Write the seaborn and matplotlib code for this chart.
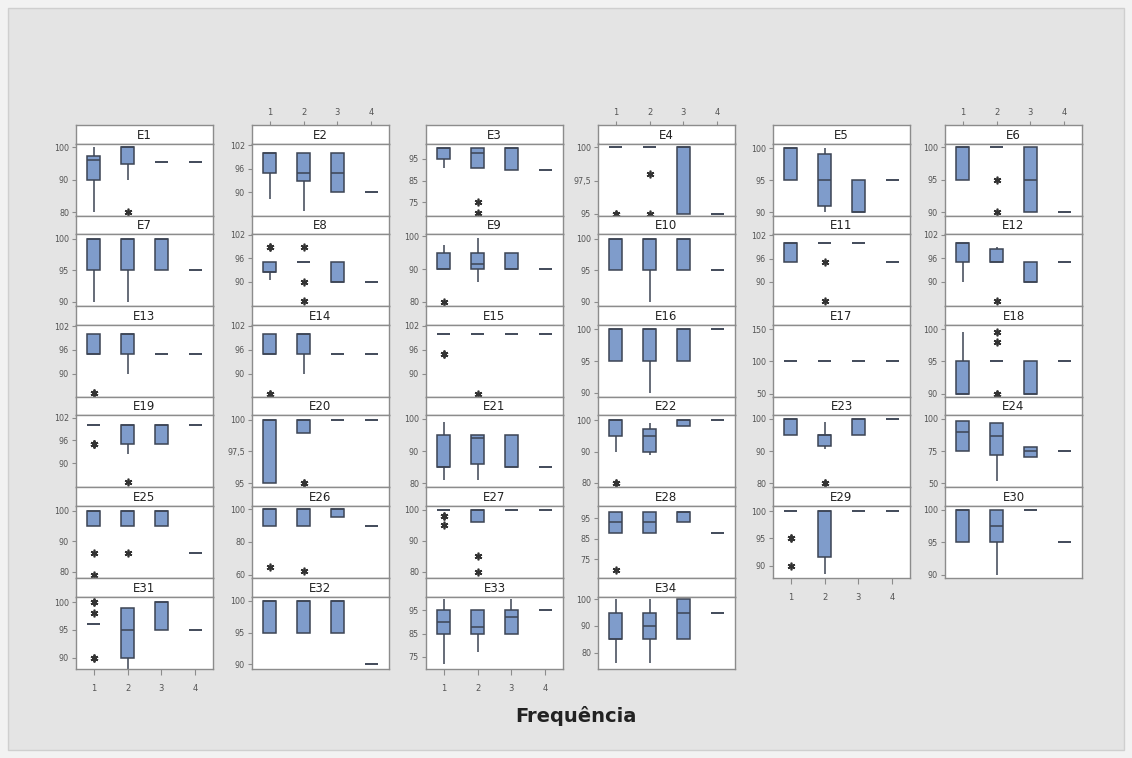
import numpy as np
import pandas as pd
import matplotlib
matplotlib.use("Agg")
import matplotlib.pyplot as plt
from matplotlib.patches import Rectangle
import seaborn as sns

# ---------------- data (box statistics) ----------------
PANELS = [f"E{i}" for i in range(1, 35)]
FREQ = [1, 2, 3, 4]
X_LABEL = "Frequência"

WHISK_LO = [
    [80, 90, 95.5, 95.5], [88.3, 85.3, 90, 90], [91, 91, 90, 90], [100, 100, 95, 95],
    [95, 90, 90, 95], [95, 100, 90, 90], [90, 90, 95, 95], [90.5, 95, 90, 90],
    [90, 86, 90, 90], [95, 90, 95, 95], [95, 100, 100, 95], [90, 95, 90, 95],
    [95, 90, 95, 95], [95, 90, 95, 95], [100, 100, 100, 100], [95, 90, 95, 100],
    [100, 100, 100, 100], [90, 95, 90, 95], [100, 92.5, 95, 100], [95, 99, 100, 100],
    [81, 81, 85, 85], [90, 89, 98, 100], [95, 90.5, 95, 100], [75, 52, 70.5, 75],
    [95, 95, 95, 86], [90, 90, 95, 90], [100, 96, 100, 100], [88, 88, 93, 88],
    [100, 88.5, 100, 100], [95, 90, 100, 95], [96, 88, 95, 95], [95, 95, 95, 90],
    [72, 77, 85, 95], [76, 76, 85, 95],
]
Q1 = [
    [90, 95, 95.5, 95.5], [95, 93, 90, 90], [95, 91, 90, 90], [100, 100, 95, 95],
    [95, 91, 90, 95], [95, 100, 90, 90], [95, 95, 95, 95], [92.5, 95, 90, 90],
    [90, 90, 90, 90], [95, 95, 95, 95], [95, 100, 100, 95], [95, 95, 90, 95],
    [95, 95, 95, 95], [95, 95, 95, 95], [100, 100, 100, 100], [95, 95, 95, 100],
    [100, 100, 100, 100], [90, 95, 90, 95], [100, 95, 95, 100], [95, 99, 100, 100],
    [85, 86, 85, 85], [95, 90, 98, 100], [95, 91.5, 95, 100], [75, 72, 70.5, 75],
    [95, 95, 95, 86], [90, 90, 95, 90], [100, 96, 100, 100], [88, 88, 93, 88],
    [100, 91.5, 100, 100], [95, 95, 100, 95], [96, 90, 95, 95], [95, 95, 95, 90],
    [85, 85, 85, 95], [85, 85, 85, 95],
]
MEDIAN = [
    [96, 100, 95.5, 95.5], [100, 95, 95, 90], [100, 97.7, 100, 90], [100, 100, 100, 95],
    [100, 95, 90, 95], [100, 100, 95, 90], [100, 100, 100, 95], [92.5, 95, 90, 90],
    [90, 91.5, 90, 90], [100, 100, 100, 95], [100, 100, 100, 95], [100, 95, 90, 95],
    [95, 100, 95, 95], [95, 100, 95, 95], [100, 100, 100, 100], [100, 100, 100, 100],
    [100, 100, 100, 100], [90, 95, 90, 95], [100, 100, 100, 100], [100, 100, 100, 100],
    [85, 94, 85, 85], [100, 95, 100, 100], [100, 95, 100, 100], [90, 87, 75, 75],
    [100, 100, 100, 86], [100, 100, 100, 90], [100, 100, 100, 100], [93, 93, 98, 88],
    [100, 100, 100, 100], [100, 97.5, 100, 95], [96, 95, 100, 95], [100, 100, 100, 90],
    [90, 88, 92, 95], [85, 90, 95, 95],
]
Q3 = [
    [97.5, 100, 95.5, 95.5], [100, 100, 100, 90], [100, 100, 100, 90], [100, 100, 100, 95],
    [100, 99, 95, 95], [100, 100, 100, 90], [100, 100, 100, 95], [95, 95, 95, 90],
    [95, 95, 95, 90], [100, 100, 100, 95], [100, 100, 100, 95], [100, 98.5, 95, 95],
    [100, 100, 95, 95], [100, 100, 95, 95], [100, 100, 100, 100], [100, 100, 100, 100],
    [100, 100, 100, 100], [95, 95, 95, 95], [100, 100, 100, 100], [100, 100, 100, 100],
    [95, 95, 95, 85], [100, 97, 100, 100], [100, 95, 100, 100], [98.5, 97, 78, 75],
    [100, 100, 100, 86], [100, 100, 100, 90], [100, 100, 100, 100], [98, 98, 98, 88],
    [100, 100, 100, 100], [100, 100, 100, 95], [96, 99, 100, 95], [100, 100, 100, 90],
    [95, 95, 95, 95], [95, 95, 100, 95],
]
WHISK_HI = [
    [100, 100, 95.5, 95.5], [100, 100, 100, 90], [100, 100, 100, 90], [100, 100, 100, 95],
    [100, 100, 95, 95], [100, 100, 100, 90], [100, 100, 100, 95], [95, 95, 95, 90],
    [97.5, 99.5, 95, 90], [100, 100, 100, 95], [100, 100, 100, 95], [100, 99, 95, 95],
    [100, 100, 95, 95], [100, 100, 95, 95], [100, 100, 100, 100], [100, 100, 100, 100],
    [100, 100, 100, 100], [99.5, 95, 95, 95], [100, 100, 100, 100], [100, 100, 100, 100],
    [99, 95, 95, 85], [100, 99, 100, 100], [100, 99, 100, 100], [98.5, 97, 78, 75],
    [100, 100, 100, 86], [100, 100, 100, 90], [100, 100, 100, 100], [98, 98, 98, 88],
    [100, 100, 100, 100], [100, 100, 100, 95], [96, 99, 100, 95], [100, 100, 100, 90],
    [100, 95, 100, 95], [100, 100, 100, 95],
]
OUTLIERS = [
    [[], [80], [], []], [[], [], [], []], [[], [75, 70], [], []], [[95, 95], [98, 95], [], []],
    [[], [], [], []], [[], [95, 90], [], []], [[], [], [], []], [[99, 99], [99, 90, 85], [], []],
    [[80], [], [], []], [[], [], [], []], [[], [95, 85], [], []], [[], [85], [], []],
    [[85, 85], [], [], []], [[85, 85], [], [], []], [[95, 95], [85], [], []], [[], [], [], []],
    [[], [], [], []], [[], [99.5, 98, 90, 90], [], []], [[95, 95, 95], [85], [], []], [[], [95, 95], [], []],
    [[], [], [], []], [[80, 80], [], [], []], [[], [80, 80], [], []], [[], [], [], []],
    [[86, 79], [86], [], []], [[65], [62], [], []], [[98, 98, 95], [85, 80], [], []], [[70], [], [], []],
    [[95, 95, 90], [], [], []], [[], [], [], []], [[100, 100, 98, 90, 90], [], [], []], [[], [], [], []],
    [[], [], [], []], [[], [], [], []],
]
Y_TICKS = [
    [80, 90, 100], [90, 96, 102], [75, 85, 95], [95, 97.5, 100], [90, 95, 100], [90, 95, 100],
    [90, 95, 100], [90, 96, 102], [80, 90, 100], [90, 95, 100], [90, 96, 102], [90, 96, 102],
    [90, 96, 102], [90, 96, 102], [90, 96, 102], [90, 95, 100], [50, 100, 150], [90, 95, 100],
    [90, 96, 102], [95, 97.5, 100], [80, 90, 100], [80, 90, 100], [80, 90, 100], [50, 75, 100],
    [80, 90, 100], [60, 80, 100], [80, 90, 100], [75, 85, 95], [90, 95, 100], [90, 95, 100],
    [90, 95, 100], [90, 95, 100], [75, 85, 95], [80, 90, 100],
]
Y_LIMITS = [
    (79, 101.2), (84.1, 102.5), (69, 102), (94.87, 100.3), (89.5, 100.7), (89.5, 100.6),
    (89.3, 100.7), (83.7, 102.2), (78.7, 100.7), (89.3, 100.75), (83.7, 102.3), (83.7, 102.2),
    (84.1, 102.4), (84.2, 102.25), (84.2, 102.25), (89.4, 100.7), (45, 156.7), (89.5, 100.7),
    (83.7, 102.6), (94.66, 100.36), (78.7, 101.1), (78.6, 101.5), (78.7, 101.1), (46.7, 102.8),
    (78, 101.5), (58, 102), (78, 101.2), (66, 101), (87.7, 101), (89.5, 100.6),
    (88, 101), (89.3, 100.7), (70, 101), (74, 101),
]

# ---------------- style ----------------
W, H = 1132, 758
BOX_FILL = "#7f9ccb"
EDGE = "#3c4454"
FRAME = "#8c8c8c"
TICK_COL = "#555555"

sns.set_theme(style="white")
plt.rcParams["font.family"] = ["DejaVu Sans"]


def make_sample(lo, q1, med, q3, hi, outs):
    """Build a sample whose linear-interpolated quartiles equal the read stats."""
    low = sorted(o for o in outs if o < q1)
    high = sorted(o for o in outs if o >= q1)
    m = max(len(low), len(high)) + 2
    part1 = low + [lo] + [q1] * (m - len(low) - 1)
    part2 = [q1] + [med] * (m - 1)
    part3 = [med] * m
    part4 = [q3] * (m - len(high)) + [hi] + high
    return part1 + part2 + part3 + part4


def fmt(v):
    if float(v).is_integer():
        return f"{int(v)}"
    return f"{v:.1f}".replace(".", ",")


fig = plt.figure(figsize=(W / 100, H / 100), dpi=100)
fig.patch.set_facecolor("#f2f2f2")
fig.add_artist(Rectangle((8 / W, 8 / H), (W - 16) / W, (H - 16) / H,
                         transform=fig.transFigure, facecolor="#e4e4e4",
                         edgecolor="#cfcfcf", linewidth=1.0, zorder=-10))


def rect(l, t, w, h):
    return [l / W, 1 - (t + h) / H, w / W, h / H]


COL_LEFT = [76, 252, 426, 598, 773, 945]
PANEL_W = 137
ROW_TOP0 = 125
ROW_PITCH = 90.6
STRIP_H = 18.5

for idx, name in enumerate(PANELS):
    row, col = divmod(idx, 6)
    nrows = 6 if col < 4 else 5
    top = ROW_TOP0 + row * ROW_PITCH
    left = COL_LEFT[col]

    # strip
    sax = fig.add_axes(rect(left, top, PANEL_W, STRIP_H))
    sax.set_facecolor("white")
    sax.set_xlim(-0.53, 3.53)
    sax.set_ylim(0, 1)
    sax.set_yticks([])
    sax.text(1.5, 0.45, name, ha="center", va="center", fontsize=8.5, color="#222222")
    for s in sax.spines.values():
        s.set_color(FRAME)
        s.set_linewidth(1.0)
    if row == 0 and col % 2 == 1:
        sax.xaxis.tick_top()
        sax.set_xticks(range(4))
        sax.set_xticklabels([str(f) for f in FREQ], fontsize=6, color=TICK_COL)
        sax.tick_params(axis="x", direction="out", length=3, width=0.8,
                        colors=FRAME, labelcolor=TICK_COL, pad=3)
    else:
        sax.set_xticks([])

    # plot area
    ax = fig.add_axes(rect(left, top + STRIP_H, PANEL_W, ROW_PITCH - STRIP_H))
    vals, grp = [], []
    for g in range(4):
        s = make_sample(WHISK_LO[idx][g], Q1[idx][g], MEDIAN[idx][g], Q3[idx][g],
                        WHISK_HI[idx][g], OUTLIERS[idx][g])
        vals += s
        grp += [FREQ[g]] * len(s)
    df = pd.DataFrame({X_LABEL: grp, "valor": vals})
    sns.boxplot(data=df, x=X_LABEL, y="valor", order=FREQ, ax=ax, width=0.38,
                color=BOX_FILL, saturation=1, linecolor=EDGE, linewidth=1.1,
                showcaps=False,
                flierprops=dict(marker=(6, 2, 0), markersize=5.5,
                                markeredgecolor="#333333", markeredgewidth=1.2),
                medianprops=dict(color=EDGE, linewidth=1.1))
    ax.set_facecolor("white")
    ax.set_xlim(-0.53, 3.53)
    ax.set_ylim(*Y_LIMITS[idx])
    ax.set_yticks(Y_TICKS[idx])
    ax.set_yticklabels([fmt(v) for v in Y_TICKS[idx]], fontsize=5.8, color=TICK_COL)
    ax.tick_params(axis="y", direction="out", length=3, width=0.8, colors=FRAME,
                   labelcolor=TICK_COL, pad=2, left=True)
    ax.set_xlabel("")
    ax.set_ylabel("")
    for s in ax.spines.values():
        s.set_color(FRAME)
        s.set_linewidth(1.0)
    if row == nrows - 1 and col % 2 == 0:
        ax.set_xticks(range(4))
        ax.set_xticklabels([str(f) for f in FREQ], fontsize=6, color=TICK_COL)
        ax.tick_params(axis="x", direction="out", length=4, width=0.8, colors=FRAME,
                       labelcolor=TICK_COL, pad=7, bottom=True)
    else:
        ax.set_xticks([])

fig.text(576 / W, 1 - 716 / H, X_LABEL, ha="center", va="center",
         fontsize=14, fontweight="bold", color="#222222")

fig.savefig("out.png", dpi=100, facecolor=fig.get_facecolor())
